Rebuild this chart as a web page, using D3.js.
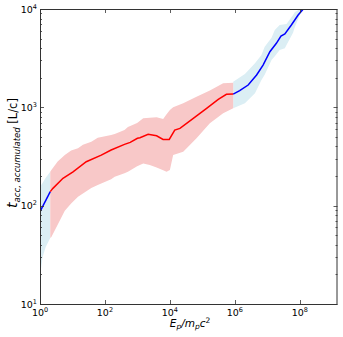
<!DOCTYPE html>
<html>
<head>
<meta charset="utf-8">
<script src="https://cdn.jsdelivr.net/npm/d3@7"></script>
<style>
  html, body { margin: 0; padding: 0; background: #fff; }
  svg { display: block; }
</style>
</head>
<body>
<div id="chart"></div>
<script>
// energy E_p/m_pc^2 and accumulated acceleration time t [L/c]

// blue curve, low-energy piece
const blueLowE = [1, 2.07];
const blueLowT = [87, 139];
const blueLowBandE = [1, 1.2, 1.5, 2.07];
const blueLowBandLo = [19, 30, 38, 47];
const blueLowBandHi = [156, 170, 192, 221];

// red curve (middle range)
const redE = [2.07, 2.5, 5.1, 10.4, 26.6, 77, 155, 400, 600, 1000, 1200, 2140, 3890, 6170, 9550, 14100, 20400, 52500, 135000, 309000, 550000, 890000];
const redT = [139, 150, 190, 221, 280, 327, 368, 420, 440, 484, 490, 531, 514, 472, 472, 587, 611, 773, 977, 1205, 1355, 1365];
const redBandE = [2.07, 2.24, 3.5, 5.8, 9.1, 14.8, 21, 38, 60, 155, 200, 400, 510, 980, 1510, 2400, 3900, 6200, 7900, 10000, 12600, 25700, 66000, 170000, 437000, 890000];
const redBandLo = [47, 48, 64, 89, 105, 123, 133, 151, 162, 186, 197, 214, 221, 251, 269, 259, 245, 229, 221, 230, 327, 353, 484, 687, 869, 977];
const redBandHi = [221, 230, 282, 327, 363, 383, 417, 447, 490, 522, 537, 587, 631, 692, 773, 785, 791, 760, 851, 940, 1000, 1099, 1282, 1479, 1754, 1778];

// blue curve, high-energy piece
const blueHighE = [890000, 1.41e6, 2.57e6, 4.68e6, 7.4e6, 1.2e7, 1.9e7, 2.63e7, 3.47e7, 5.5e7, 8.9e7, 1.26e8, 2e8];
const blueHighT = [1365, 1476, 1687, 2133, 2692, 3681, 4477, 5309, 5572, 6871, 8690, 9931, 13500];
const blueHighBandE = [890000, 2.04e6, 4.17e6, 6.6e6, 8.3e6, 1.35e7, 1.7e7, 2.4e7, 3.47e7, 3.9e7, 6.2e7, 7.1e7, 1e8, 1.26e8, 2e8];
const blueHighBandLo = [977, 1099, 1387, 1897, 2150, 3027, 3300, 3828, 3981, 4300, 5750, 6600, 8700, 10000, 13000];
const blueHighBandHi = [1820, 2183, 2805, 3400, 4140, 5100, 6110, 6870, 7000, 7030, 8690, 9300, 9930, 11500, 15000];

const xTickExp = [0, 2, 4, 6, 8];
const yTickExp = [1, 2, 3, 4];

const W = 343, H = 337;
const mLeft = 40, mRight = 337.5, mTop = 9, mBottom = 304;

const x = d3.scaleLog().domain([1, 1.45e9]).range([mLeft, mRight]);
const y = d3.scaleLog().domain([10, 1e4]).range([mBottom, mTop]);

const svg = d3.select("#chart").append("svg")
  .attr("width", W).attr("height", H)
  .attr("font-family", "DejaVu Sans, sans-serif");

svg.append("clipPath").attr("id", "plotclip")
  .append("rect").attr("x", mLeft).attr("y", mTop)
  .attr("width", mRight - mLeft).attr("height", mBottom - mTop);

const plot = svg.append("g").attr("clip-path", "url(#plotclip)");

const zip = (es, ts) => es.map((e, i) => [e, ts[i]]);
const band = (es, lo, hi) => es.map((e, i) => ({ e, lo: lo[i], hi: hi[i] }));

const area = d3.area().x(d => x(d.e)).y0(d => y(d.lo)).y1(d => y(d.hi));
const line = d3.line().x(d => x(d[0])).y(d => y(d[1]));

// bands
plot.append("path").datum(band(blueLowBandE, blueLowBandLo, blueLowBandHi))
  .attr("d", area).attr("fill", "#dbeef4");
plot.append("path").datum(band(blueHighBandE, blueHighBandLo, blueHighBandHi))
  .attr("d", area).attr("fill", "#dbeef4");
plot.append("path").datum(band(redBandE, redBandLo, redBandHi))
  .attr("d", area).attr("fill", "#f8c8c8");

// lines
plot.append("path").datum(zip(blueLowE, blueLowT))
  .attr("d", line).attr("fill", "none").attr("stroke", "#0000ff").attr("stroke-width", 1.5);
plot.append("path").datum(zip(blueHighE, blueHighT))
  .attr("d", line).attr("fill", "none").attr("stroke", "#0000ff").attr("stroke-width", 1.5);
plot.append("path").datum(zip(redE, redT))
  .attr("d", line).attr("fill", "none").attr("stroke", "#ff0000").attr("stroke-width", 1.5);

// ticks (inward, all sides)
const frame = "#333";
const ticks = svg.append("g").attr("stroke", frame).attr("stroke-width", 0.8);

xTickExp.forEach(p => {
  const px = Math.round(x(Math.pow(10, p))) + 0.5;
  ticks.append("line").attr("x1", px).attr("x2", px).attr("y1", mBottom).attr("y2", mBottom - 4);
  ticks.append("line").attr("x1", px).attr("x2", px).attr("y1", mTop).attr("y2", mTop + 4);
});

const yMinor = [];
yTickExp.slice(0, -1).forEach(p => {
  for (let m = 2; m <= 9; m++) yMinor.push(m * Math.pow(10, p));
});
yTickExp.forEach(p => {
  const py = Math.round(y(Math.pow(10, p))) + 0.5;
  ticks.append("line").attr("x1", mLeft).attr("x2", mLeft + 4).attr("y1", py).attr("y2", py);
  ticks.append("line").attr("x1", mRight).attr("x2", mRight - 4).attr("y1", py).attr("y2", py);
});
yMinor.forEach(v => {
  const py = Math.round(y(v)) + 0.5;
  ticks.append("line").attr("x1", mLeft).attr("x2", mLeft + 2).attr("y1", py).attr("y2", py);
  ticks.append("line").attr("x1", mRight).attr("x2", mRight - 2).attr("y1", py).attr("y2", py);
});

// frame
svg.append("rect")
  .attr("x", mLeft + 0.5).attr("y", mTop + 0.5)
  .attr("width", mRight - mLeft - 1).attr("height", mBottom - mTop)
  .attr("fill", "none").attr("stroke", frame).attr("stroke-width", 1);

// tick labels
const fs = 9.5;
xTickExp.forEach(p => {
  const t = svg.append("text")
    .attr("x", x(Math.pow(10, p))).attr("y", 316)
    .attr("text-anchor", "middle").attr("font-size", fs).attr("fill", "#000");
  t.append("tspan").text("10");
  t.append("tspan").attr("font-size", 6.5).attr("dy", -4).text(p);
});
yTickExp.forEach(p => {
  const t = svg.append("text")
    .attr("x", 37).attr("y", y(Math.pow(10, p)) + 3.5)
    .attr("text-anchor", "end").attr("font-size", fs).attr("fill", "#000");
  t.append("tspan").text("10");
  t.append("tspan").attr("font-size", 6.5).attr("dy", -4).text(p);
});

// axis labels
const xl = svg.append("text")
  .attr("x", 190).attr("y", 327)
  .attr("text-anchor", "middle").attr("font-size", 10.5).attr("fill", "#000");
xl.append("tspan").attr("font-style", "italic").text("E");
xl.append("tspan").attr("font-style", "italic").attr("font-size", 7.5).attr("dy", 2).text("p");
xl.append("tspan").attr("font-style", "italic").attr("dy", -2).text("/m");
xl.append("tspan").attr("font-style", "italic").attr("font-size", 7.5).attr("dy", 2).text("p");
xl.append("tspan").attr("font-style", "italic").attr("dy", -2).text("c");
xl.append("tspan").attr("font-size", 7.5).attr("dy", -4).text("2");

const yl = svg.append("text")
  .attr("transform", "translate(17,153) rotate(-90)")
  .attr("text-anchor", "middle").attr("font-size", 11.5).attr("fill", "#000");
yl.append("tspan").attr("font-style", "italic").attr("font-size", 14).text("t");
yl.append("tspan").attr("font-style", "italic").attr("font-size", 8.5).attr("dy", 3).text("acc, accumulated");
yl.append("tspan").attr("dy", -3).text(" [L/c]");
</script>
</body>
</html>
